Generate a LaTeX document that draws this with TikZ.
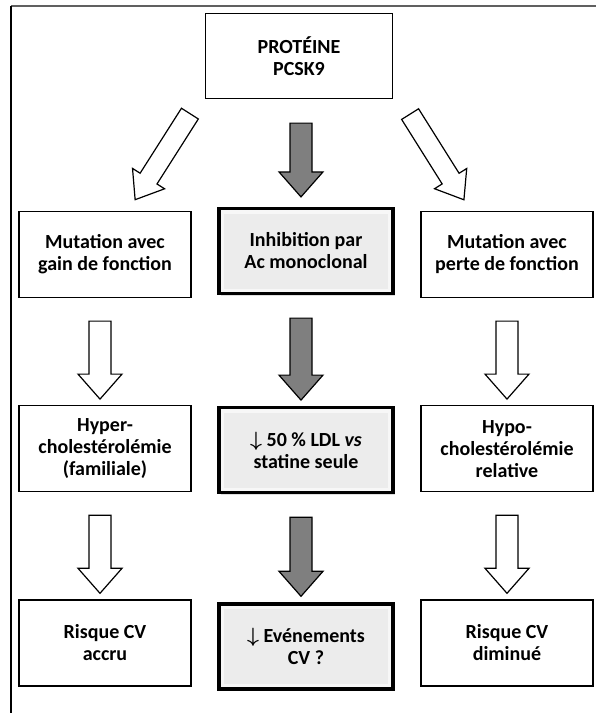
\documentclass[tikz,border=0pt]{standalone}
\usepackage{fontspec}
\setmainfont{Carlito}
\usepackage{tikz}
\usetikzlibrary{calc}
\usetikzlibrary{positioning}
\usetikzlibrary{shadows}

\definecolor{arrowgray}{HTML}{7F7F7F}
\definecolor{boxgray}{HTML}{ECECEC}
\definecolor{boxlight}{HTML}{F7F7F7}

% block arrow from one point to another: [style]{from}{to}{half shaft}{half head}
\newcommand{\blockarrow}[5][]{%
  \draw[blockarrow, #1] let \p1=($(#3)-(#2)$), \n1={veclen(\x1,\y1)}, \n2={atan2(\y1,\x1)} in
    [shift={(#2)}, rotate=\n2]
    (0pt,-#4) -- ({\n1-25pt},-#4) -- ({\n1-25pt},-#5) -- ({\n1+0pt},0pt)
    -- ({\n1-25pt},#5) -- ({\n1-25pt},#4) -- (0pt,#4) -- cycle;}

\begin{document}
\begin{tikzpicture}[x=1pt, y=-1pt,
    every node/.style={font=\bfseries\fontsize{20}{22}\selectfont, align=center},
    plain/.style={draw, line width=1.2pt, fill=white, minimum width=172, minimum height=86},
    graybox/.style={draw, line width=3.2pt, fill=boxlight, minimum width=174, minimum height=85,
        drop shadow={opacity=0.25, shadow xshift=1.5pt, shadow yshift=-2pt},
        path picture={\fill[boxgray] ([shift={(5pt,5pt)}]path picture bounding box.south west)
            rectangle ([shift={(-5pt,-5pt)}]path picture bounding box.north east);}},
    blockarrow/.style={draw, line width=1.2pt, line join=miter},
    node distance=107pt]
    \useasboundingbox (0,0) rectangle (596,713);
    \draw[line width=2pt, gray!75!black] (11,6) -- (596,6);
    \draw[line width=1.2pt] (11,6) -- (11,713);

    \node [plain, minimum width=187, minimum height=85] (prot) at (299,56) {PROTÉINE\\PCSK9};
    \node [plain] (gain) at (105,254.5) {Mutation avec\\gain de fonction};
    \node [graybox] (inhib) at (306,251) {Inhibition par\\Ac monoclonal};
    \node [plain] (perte) at (507,254.5) {Mutation avec\\perte de fonction};

    \node [plain, below=of gain] (hyper) {Hyper-\\cholestérolémie\\(familiale)};
    \node [graybox, below=111pt of inhib] (ldl) {{\boldmath$\downarrow$} 50~\% LDL \textit{vs}\\statine seule};
    \node [plain, below=of perte] (hypo) {Hypo-\\cholestérolémie\\relative};

    \node [plain, below=of hyper] (accru) {Risque CV\\accru};
    \node [graybox, below=108pt of ldl] (evts) {{\boldmath$\downarrow$} Evénements\\CV ?};
    \node [plain, below=of hypo] (diminue) {Risque CV\\diminué};

    % arrows out of the protein box
    \coordinate (prot-left) at ($(prot.south west)+(-15,14.5)$);
    \coordinate (gain-in) at ($(gain.north)+(30,-11)$);
    \coordinate (prot-right) at ($(prot.south east)+(17,15)$);
    \coordinate (perte-in) at ($(perte.north)+(-43,-11)$);
    \coordinate (prot-out) at ([xshift=2pt,yshift=-24pt]prot.south);
    \coordinate (inhib-in) at ([xshift=-5pt,yshift=10pt]inhib.north);
    \blockarrow[fill=white]{prot-left}{gain-in}{10pt}{19pt}
    \blockarrow[fill=white]{prot-right}{perte-in}{10pt}{19pt}
    \blockarrow[fill=arrowgray]{prot-out}{inhib-in}{11pt}{22pt}

    % arrows down each column
    \foreach \a/\b/\c/\dx in {gain/hyper/white/-5, hyper/accru/white/-5, inhib/ldl/arrowgray/-5,
        ldl/evts/arrowgray/-5, perte/hypo/white/0, hypo/diminue/white/0} {
        \coordinate (\a-out) at ([xshift=\dx pt,yshift=-23pt]\a.south);
        \coordinate (\b-in) at ([xshift=\dx pt,yshift=6pt]\b.north);
        \blockarrow[fill=\c]{\a-out}{\b-in}{11pt}{22pt}
    }
\end{tikzpicture}
\end{document}
